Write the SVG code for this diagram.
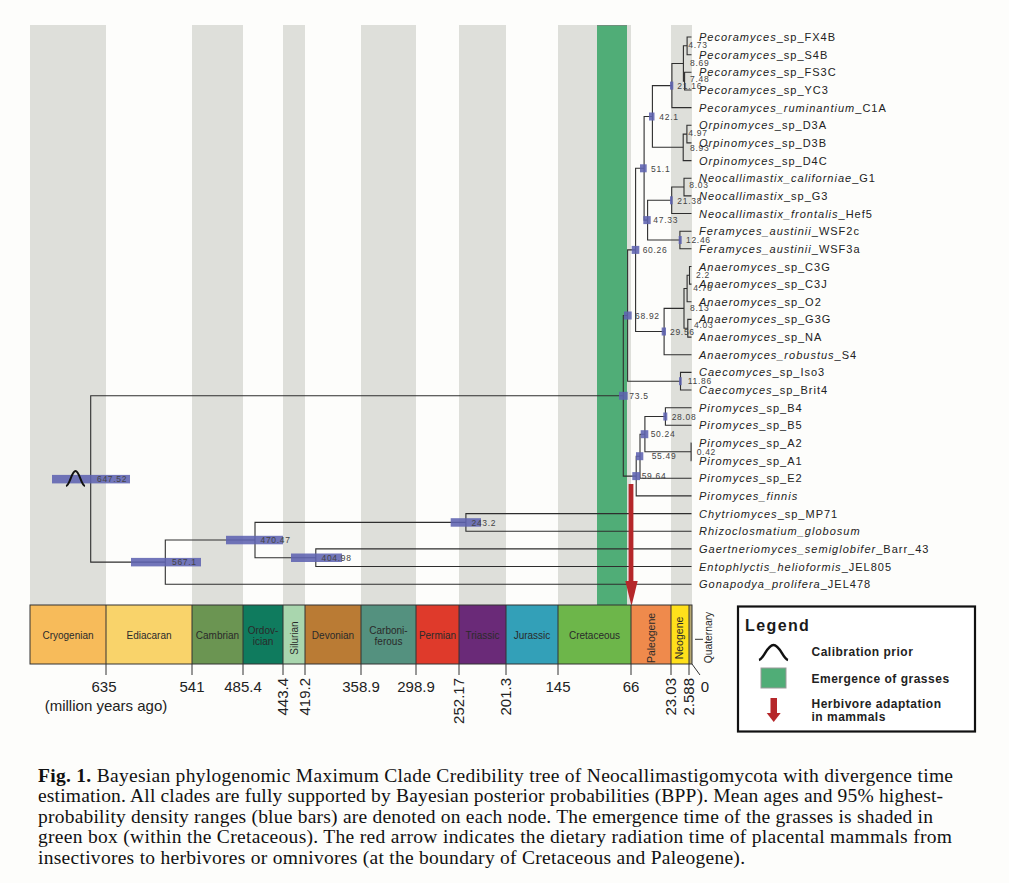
<svg xmlns="http://www.w3.org/2000/svg" width="1009" height="883" viewBox="0 0 1009 883">
<style>
.band{fill:#DEDFDA}
.br{fill:none;stroke:#2e2e2e;stroke-width:1.1}
.hpd{fill:#5f63b0;opacity:0.88}
.nl{font-family:"Liberation Sans",Arial,sans-serif;font-size:8.5px;letter-spacing:0.7px;fill:#444}
.tl{font-family:"Liberation Sans",Arial,sans-serif;font-size:11px;letter-spacing:1px;fill:#222}
.i{font-style:italic}
.per{stroke:#333;stroke-width:1}
.pl{font-family:"Liberation Sans",Arial,sans-serif;font-size:10px;fill:#2a2a2a;text-anchor:middle}
.tk{stroke:#333;stroke-width:1}
.ax{font-family:"Liberation Sans",Arial,sans-serif;font-size:15px;fill:#222}
.lg{font-family:"Liberation Sans",Arial,sans-serif;font-weight:bold;font-size:12px;letter-spacing:0.5px;fill:#222}
.cap{font-family:"Liberation Serif","Times New Roman",serif;font-size:19.5px;fill:#111}
</style>
<rect x="0" y="0" width="1009" height="883" fill="#FDFDFB"/>
<g id="time-bands">
<rect class="band" x="30" y="25" width="76" height="580"/>
<rect class="band" x="192" y="25" width="51" height="580"/>
<rect class="band" x="283" y="25" width="22" height="580"/>
<rect class="band" x="361" y="25" width="55" height="580"/>
<rect class="band" x="459" y="25" width="47" height="580"/>
<rect class="band" x="558" y="25" width="73" height="580"/>
<rect class="band" x="671" y="25" width="21" height="580"/>
</g>
<g id="grass-emergence">
<rect x="597" y="25" width="30" height="580" fill="#50AD77"/>
<line x1="597" y1="25.5" x2="627" y2="25.5" stroke="#6f8f7c" stroke-width="1"/>
</g>
<g id="connectors">
<path class="br" d="M691.5 37 H687.1 V54.7 H691.5"/>
<path class="br" d="M691.5 72.3 H684.6 V90 H691.5"/>
<path class="br" d="M687.1 45.8 H683.4 V81.1 H684.6"/>
<path class="br" d="M683.4 63.5 H671.9 V107.6 H691.5"/>
<path class="br" d="M691.5 125.3 H686.9 V142.9 H691.5"/>
<path class="br" d="M686.9 134.1 H683.2 V160.6 H691.5"/>
<path class="br" d="M671.9 85.6 H652.4 V147.3 H683.2"/>
<path class="br" d="M691.5 178.2 H684 V195.9 H691.5"/>
<path class="br" d="M684 187 H671.7 V213.5 H691.5"/>
<path class="br" d="M691.5 231.2 H679.9 V248.8 H691.5"/>
<path class="br" d="M671.7 200.3 H647.6 V240 H679.9"/>
<path class="br" d="M652.4 116.5 H644.1 V220.1 H647.6"/>
<path class="br" d="M691.5 266.5 H689.5 V284.1 H691.5"/>
<path class="br" d="M689.5 275.3 H687.1 V301.8 H691.5"/>
<path class="br" d="M691.5 319.4 H687.8 V337.1 H691.5"/>
<path class="br" d="M687.1 288.5 H684 V328.2 H687.8"/>
<path class="br" d="M684 308.4 H664.1 V354.7 H691.5"/>
<path class="br" d="M644.1 168.3 H635.6 V331.5 H664.1"/>
<path class="br" d="M691.5 372.4 H680.5 V390 H691.5"/>
<path class="br" d="M635.6 249.9 H627.6 V381.2 H680.5"/>
<path class="br" d="M691.5 407.7 H665.4 V425.3 H691.5"/>
<path class="br" d="M691.5 443 H691.1 V460.6 H691.5"/>
<path class="br" d="M665.4 416.5 H644.9 V451.8 H691.1"/>
<path class="br" d="M644.9 434.2 H640 V478.3 H691.5"/>
<path class="br" d="M640 456.2 H636.2 V495.9 H691.5"/>
<path class="br" d="M627.6 315.5 H623.3 V476.1 H636.2"/>
<path class="br" d="M691.5 513.6 H465.9 V531.2 H691.5"/>
<path class="br" d="M691.5 548.9 H315.8 V566.5 H691.5"/>
<path class="br" d="M465.9 522.4 H255 V557.7 H315.8"/>
<path class="br" d="M255 540 H165.3 V584.2 H691.5"/>
<path class="br" d="M623.3 395.8 H90.7 V562.1 H165.3"/>
</g>
<g id="nodes">
<g id="node-647.52"><rect class="hpd" x="52" y="474.9" width="78" height="8.5"/><path d="M66 486 C70 485.5 71.5 471 75.5 471 C79.5 471 81 485.5 85 486" fill="none" stroke="#111" stroke-width="2"/><text class="nl" x="97" y="482.3">647.52</text></g>
<g id="node-567.1"><rect class="hpd" x="131" y="557.9" width="70" height="8.5"/><text class="nl" x="172" y="565.3">567.1</text></g>
<g id="node-470.47"><rect class="hpd" x="226" y="535.8" width="57" height="8.5"/><text class="nl" x="260.5" y="543.2">470.47</text></g>
<g id="node-404.98"><rect class="hpd" x="291" y="553.5" width="51" height="8.5"/><text class="nl" x="321.5" y="560.9">404.98</text></g>
<g id="node-243.2"><rect class="hpd" x="450.7" y="518.2" width="30.3" height="8.5"/><text class="nl" x="471.5" y="525.6">243.2</text></g>
<g id="node-73.5"><rect class="hpd" x="619" y="391.8" width="8.7" height="8"/><text class="nl" x="629.3" y="399">73.5</text></g>
<g id="node-68.92"><rect class="hpd" x="624" y="311.5" width="7.7" height="8"/><text class="nl" x="635" y="318.7">68.92</text></g>
<g id="node-60.26"><rect class="hpd" x="631.7" y="245.9" width="7.6" height="8"/><text class="nl" x="642.7" y="253.1">60.26</text></g>
<g id="node-51.1"><rect class="hpd" x="640" y="164.3" width="6.7" height="8"/><text class="nl" x="651" y="171.5">51.1</text></g>
<g id="node-42.1"><rect class="hpd" x="649" y="112.5" width="5.5" height="8"/><text class="nl" x="659.3" y="119.7">42.1</text></g>
<g id="node-21.16"><rect class="hpd" x="670" y="81.6" width="3.3" height="8"/><text class="nl" x="677.3" y="88.8">21.16</text></g>
<g id="node-8.69"><text class="nl" x="690" y="65.7">8.69</text></g>
<g id="node-4.73"><text class="nl" x="688.3" y="48">4.73</text></g>
<g id="node-7.48"><text class="nl" x="690" y="82">7.48</text></g>
<g id="node-8.93"><text class="nl" x="690" y="150.5">8.93</text></g>
<g id="node-4.97"><text class="nl" x="688.3" y="136">4.97</text></g>
<g id="node-47.33"><rect class="hpd" x="643.3" y="216.1" width="7.4" height="8"/><text class="nl" x="653.3" y="223.3">47.33</text></g>
<g id="node-21.38"><rect class="hpd" x="670" y="196.3" width="2.7" height="8"/><text class="nl" x="677.3" y="203.5">21.38</text></g>
<g id="node-8.03"><text class="nl" x="689.3" y="187.5">8.03</text></g>
<g id="node-12.46"><rect class="hpd" x="678.7" y="236" width="3" height="8"/><text class="nl" x="686" y="243.2">12.46</text></g>
<g id="node-29.56"><rect class="hpd" x="661.7" y="327.5" width="4.3" height="8"/><text class="nl" x="670" y="334.7">29.56</text></g>
<g id="node-8.13"><text class="nl" x="690" y="311">8.13</text></g>
<g id="node-4.78"><text class="nl" x="693.3" y="291">4.78</text></g>
<g id="node-2.2"><text class="nl" x="696" y="278">2.2</text></g>
<g id="node-4.03"><text class="nl" x="694" y="328">4.03</text></g>
<g id="node-11.86"><rect class="hpd" x="679" y="377.2" width="2.7" height="8"/><text class="nl" x="687.7" y="384.4">11.86</text></g>
<g id="node-59.64"><rect class="hpd" x="632.3" y="472.1" width="7.7" height="8"/><text class="nl" x="641.7" y="479.3">59.64</text></g>
<g id="node-55.49"><rect class="hpd" x="636" y="452.2" width="7.3" height="8"/><text class="nl" x="651.7" y="459.4">55.49</text></g>
<g id="node-50.24"><rect class="hpd" x="640.7" y="430.2" width="7.6" height="8"/><text class="nl" x="650.7" y="437.4">50.24</text></g>
<g id="node-28.08"><rect class="hpd" x="663.3" y="412.5" width="4" height="8"/><text class="nl" x="671.7" y="419.7">28.08</text></g>
<g id="node-0.42"><text class="nl" x="696.7" y="455">0.42</text></g>
</g>
<g id="tips">
<text class="tl" x="699" y="41"><tspan class="i">Pecoramyces</tspan>_sp_FX4B</text>
<text class="tl" x="699" y="58.7"><tspan class="i">Pecoramyces</tspan>_sp_S4B</text>
<text class="tl" x="699" y="76.3"><tspan class="i">Pecoramyces</tspan>_sp_FS3C</text>
<text class="tl" x="699" y="94"><tspan class="i">Pecoramyces</tspan>_sp_YC3</text>
<text class="tl" x="699" y="111.6"><tspan class="i">Pecoramyces_ruminantium</tspan>_C1A</text>
<text class="tl" x="699" y="129.3"><tspan class="i">Orpinomyces</tspan>_sp_D3A</text>
<text class="tl" x="699" y="146.9"><tspan class="i">Orpinomyces</tspan>_sp_D3B</text>
<text class="tl" x="699" y="164.6"><tspan class="i">Orpinomyces</tspan>_sp_D4C</text>
<text class="tl" x="699" y="182.2"><tspan class="i">Neocallimastix_californiae</tspan>_G1</text>
<text class="tl" x="699" y="199.9"><tspan class="i">Neocallimastix</tspan>_sp_G3</text>
<text class="tl" x="699" y="217.5"><tspan class="i">Neocallimastix_frontalis</tspan>_Hef5</text>
<text class="tl" x="699" y="235.2"><tspan class="i">Feramyces_austinii</tspan>_WSF2c</text>
<text class="tl" x="699" y="252.8"><tspan class="i">Feramyces_austinii</tspan>_WSF3a</text>
<text class="tl" x="699" y="270.5"><tspan class="i">Anaeromyces</tspan>_sp_C3G</text>
<text class="tl" x="699" y="288.1"><tspan class="i">Anaeromyces</tspan>_sp_C3J</text>
<text class="tl" x="699" y="305.8"><tspan class="i">Anaeromyces</tspan>_sp_O2</text>
<text class="tl" x="699" y="323.4"><tspan class="i">Anaeromyces</tspan>_sp_G3G</text>
<text class="tl" x="699" y="341.1"><tspan class="i">Anaeromyces</tspan>_sp_NA</text>
<text class="tl" x="699" y="358.7"><tspan class="i">Anaeromyces_robustus</tspan>_S4</text>
<text class="tl" x="699" y="376.4"><tspan class="i">Caecomyces</tspan>_sp_Iso3</text>
<text class="tl" x="699" y="394"><tspan class="i">Caecomyces</tspan>_sp_Brit4</text>
<text class="tl" x="699" y="411.7"><tspan class="i">Piromyces</tspan>_sp_B4</text>
<text class="tl" x="699" y="429.3"><tspan class="i">Piromyces</tspan>_sp_B5</text>
<text class="tl" x="699" y="447"><tspan class="i">Piromyces</tspan>_sp_A2</text>
<text class="tl" x="699" y="464.6"><tspan class="i">Piromyces</tspan>_sp_A1</text>
<text class="tl" x="699" y="482.3"><tspan class="i">Piromyces</tspan>_sp_E2</text>
<text class="tl" x="699" y="499.9"><tspan class="i">Piromyces_finnis</tspan></text>
<text class="tl" x="699" y="517.6"><tspan class="i">Chytriomyces</tspan>_sp_MP71</text>
<text class="tl" x="699" y="535.2"><tspan class="i">Rhizoclosmatium_globosum</tspan></text>
<text class="tl" x="699" y="552.9"><tspan class="i">Gaertneriomyces_semiglobifer</tspan>_Barr_43</text>
<text class="tl" x="699" y="570.5"><tspan class="i">Entophlyctis_helioformis</tspan>_JEL805</text>
<text class="tl" x="699" y="588.2"><tspan class="i">Gonapodya_prolifera</tspan>_JEL478</text>
</g>
<g id="herbivore-arrow" fill="#B5272A">
<rect x="628.6" y="484" width="4.8" height="98"/>
<polygon points="625.3,581 637.7,581 631.5,606"/>
</g>
<g id="timescale">
<rect x="30" y="605" width="76" height="59" fill="#F7BB5A"/>
<rect x="106" y="605" width="86" height="59" fill="#F9D36A"/>
<rect x="192" y="605" width="51" height="59" fill="#6B9552"/>
<rect x="243" y="605" width="40" height="59" fill="#0F7B5E"/>
<rect x="283" y="605" width="22" height="59" fill="#A9D6AE"/>
<rect x="305" y="605" width="56" height="59" fill="#BA7B34"/>
<rect x="361" y="605" width="55" height="59" fill="#54917F"/>
<rect x="416" y="605" width="43" height="59" fill="#DF3A2B"/>
<rect x="459" y="605" width="47" height="59" fill="#6A2A78"/>
<rect x="506" y="605" width="52" height="59" fill="#33A0B8"/>
<rect x="558" y="605" width="73" height="59" fill="#6DB64A"/>
<rect x="631" y="605" width="40" height="59" fill="#EF8A4C"/>
<rect x="671" y="605" width="18" height="59" fill="#FFE01B"/>
<rect x="689" y="605" width="3" height="59" fill="#B6A770"/>
<rect x="30" y="605" width="662" height="59" fill="none" stroke="#333" stroke-width="1"/>
<g class="per">
<line x1="106" y1="605" x2="106" y2="664"/><line x1="192" y1="605" x2="192" y2="664"/><line x1="243" y1="605" x2="243" y2="664"/><line x1="283" y1="605" x2="283" y2="664"/><line x1="305" y1="605" x2="305" y2="664"/><line x1="361" y1="605" x2="361" y2="664"/><line x1="416" y1="605" x2="416" y2="664"/><line x1="459" y1="605" x2="459" y2="664"/><line x1="506" y1="605" x2="506" y2="664"/><line x1="558" y1="605" x2="558" y2="664"/><line x1="631" y1="605" x2="631" y2="664"/><line x1="671" y1="605" x2="671" y2="664"/><line x1="689" y1="605" x2="689" y2="664"/>
</g>
<text class="pl" x="68" y="639">Cryogenian</text>
<text class="pl" x="149" y="639">Ediacaran</text>
<text class="pl" x="217.5" y="639">Cambrian</text>
<text class="pl" x="263" y="633.5">Ordov-</text>
<text class="pl" x="263" y="645">ician</text>
<text class="pl" transform="translate(298,638) rotate(-90)">Silurian</text>
<text class="pl" x="333" y="639">Devonian</text>
<text class="pl" x="388.5" y="633.5">Carboni-</text>
<text class="pl" x="388.5" y="645">ferous</text>
<text class="pl" x="437.5" y="639">Permian</text>
<text class="pl" x="482.5" y="639">Triassic</text>
<text class="pl" x="532" y="639">Jurassic</text>
<text class="pl" x="594.5" y="639">Cretaceous</text>
<text class="pl" style="font-size:10.5px" transform="translate(655,638) rotate(-90)">Paleogene</text>
<text class="pl" style="font-size:10.5px" transform="translate(683,638) rotate(-90)">Neogene</text>
<text class="pl" style="font-size:10.3px" transform="translate(711.5,637.5) rotate(-90)">Quaternary</text>
<line x1="695" y1="639.3" x2="703" y2="639.3" stroke="#333" stroke-width="1"/>
<g class="tk">
<line x1="106" y1="664" x2="106" y2="675"/><line x1="192" y1="664" x2="192" y2="675"/><line x1="243" y1="664" x2="243" y2="675"/><line x1="283" y1="664" x2="283" y2="675"/><line x1="305" y1="664" x2="305" y2="675"/><line x1="361" y1="664" x2="361" y2="675"/><line x1="416" y1="664" x2="416" y2="675"/><line x1="459" y1="664" x2="459" y2="675"/><line x1="506" y1="664" x2="506" y2="675"/><line x1="558" y1="664" x2="558" y2="675"/><line x1="631" y1="664" x2="631" y2="675"/><line x1="671" y1="664" x2="671" y2="675"/><line x1="689" y1="664" x2="689" y2="675"/><line x1="692" y1="664" x2="700" y2="675"/>
</g>
<g class="ax">
<text x="104" y="692" text-anchor="middle">635</text>
<text x="106" y="711" text-anchor="middle">(million years ago)</text>
<text x="192" y="692" text-anchor="middle">541</text>
<text x="243" y="692" text-anchor="middle">485.4</text>
<text x="361" y="692" text-anchor="middle">358.9</text>
<text x="416" y="692" text-anchor="middle">298.9</text>
<text x="558" y="692" text-anchor="middle">145</text>
<text x="631" y="692" text-anchor="middle">66</text>
<text x="705" y="692" text-anchor="middle">0</text>
<text text-anchor="end" transform="translate(288,678) rotate(-90)">443.4</text>
<text text-anchor="end" transform="translate(310,678) rotate(-90)">419.2</text>
<text text-anchor="end" transform="translate(464,678) rotate(-90)">252.17</text>
<text text-anchor="end" transform="translate(511,678) rotate(-90)">201.3</text>
<text text-anchor="end" transform="translate(676,678) rotate(-90)">23.03</text>
<text text-anchor="end" transform="translate(694,678) rotate(-90)">2.588</text>
</g>
</g>
<g id="legend">
<rect x="738" y="606.5" width="237" height="125" fill="#fff" stroke="#111" stroke-width="2.2"/>
<text x="745" y="631" style="font-family:'Liberation Sans',Arial,sans-serif;font-weight:bold;font-size:16px;letter-spacing:1.4px;fill:#1a1a1a">Legend</text>
<path d="M759 660 C764 659 767 645 773.5 645 C780 645 783 659 788 660" fill="none" stroke="#111" stroke-width="2.5"/>
<text class="lg" x="811.5" y="656">Calibration prior</text>
<rect x="761" y="668" width="25" height="20" fill="#50AD77" stroke="#9a9a9a" stroke-width="1"/>
<text class="lg" x="811.5" y="683">Emergence of grasses</text>
<rect x="770.5" y="698" width="6.5" height="15" fill="#B5272A"/>
<polygon points="766.7,713 780.7,713 773.7,722" fill="#B5272A"/>
<text class="lg" x="811.5" y="707.5">Herbivore adaptation</text>
<text class="lg" x="811.5" y="721">in mammals</text>
</g>
<g id="caption" class="cap">
<text x="38" y="781.5" textLength="915" lengthAdjust="spacing"><tspan font-weight="bold">Fig. 1.</tspan> Bayesian phylogenomic Maximum Clade Credibility tree of Neocallimastigomycota with divergence time</text>
<text x="38" y="802" textLength="905" lengthAdjust="spacing">estimation. All clades are fully supported by Bayesian posterior probabilities (BPP). Mean ages and 95% highest-</text>
<text x="38" y="822.5" textLength="895" lengthAdjust="spacing">probability density ranges (blue bars) are denoted on each node. The emergence time of the grasses is shaded in</text>
<text x="38" y="843" textLength="914" lengthAdjust="spacing">green box (within the Cretaceous). The red arrow indicates the dietary radiation time of placental mammals from</text>
<text x="38" y="863.5" textLength="707" lengthAdjust="spacing">insectivores to herbivores or omnivores (at the boundary of Cretaceous and Paleogene).</text>
</g>
</svg>
